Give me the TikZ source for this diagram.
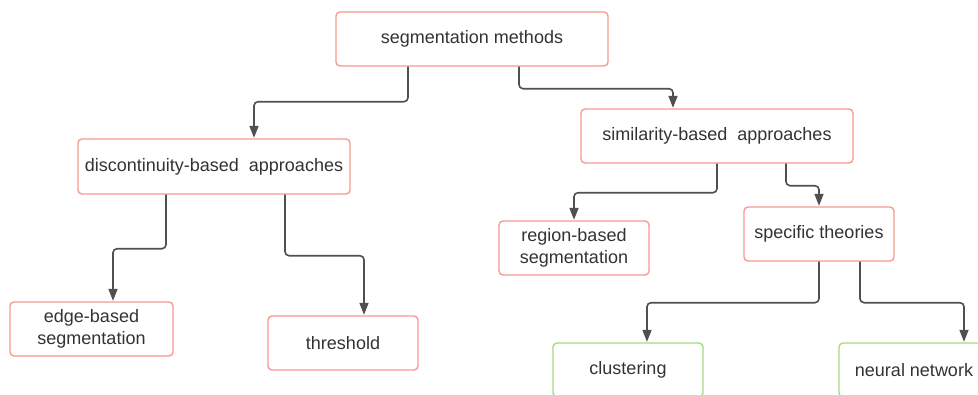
\documentclass[tikz,border=0pt]{standalone}
\usepackage{fontspec}
\setmainfont{Liberation Sans}
\usetikzlibrary{arrows.meta}
\definecolor{boxred}{HTML}{F79B8E}
\definecolor{boxgreen}{HTML}{A3D982}
\definecolor{txt}{HTML}{333333}
\definecolor{linec}{HTML}{505050}
\begin{document}
\begin{tikzpicture}[x=1pt,y=-1pt,
  box/.style={draw=boxred, line width=1.4pt, rounded corners=4pt, fill=white,
    text=txt, align=center, font=\fontsize{18}{21.5}\selectfont,
    inner sep=0pt, minimum height=54pt},
  gbox/.style={box, draw=boxgreen},
  conn/.style={draw=linec, line width=1.6pt, rounded corners=4pt,
    -{Triangle[width=9pt,length=12pt]}, shorten >=0.5pt}
]
\fill[white] (0,0) rectangle (978,394);
\useasboundingbox (0,0) rectangle (978,394);
\clip (0,0) rectangle (978,394);

\node[box, minimum width=272pt] (top) at (472,39) {segmentation methods};
\node[box, minimum width=272pt, minimum height=55pt] (disc) at (214,166.5) {discontinuity-based\ \ approaches};
\node[box, minimum width=272pt] (sim) at (717,136) {similarity-based\ \ approaches};
\node[box, minimum width=163pt] (edge) at (91.5,329) {edge-based\\segmentation};
\node[box, minimum width=150pt] (thr) at (343,343) {threshold};
\node[box, minimum width=150pt] (reg) at (574,248) {region-based\\segmentation};
\node[box, minimum width=150pt] (spec) at (819,234) {specific theories};
\node[gbox, minimum width=150pt] (clu) at (628,370) {clustering};
\node[gbox, minimum width=150pt] (nn) at (914,370) {neural network};

\draw[conn] ([xshift=-64pt]top.south) -- ++(0,35) -| ([xshift=40pt]disc.north);
\draw[conn] ([xshift=47pt]top.south) -- ++(0,22) -| ([xshift=-44pt]sim.north);
\draw[conn] ([xshift=-48pt]disc.south) -- ++(0,54) -| ([xshift=21.5pt]edge.north);
\draw[conn] ([xshift=71pt]disc.south) -- ++(0,61) -| ([xshift=21pt]thr.north);
\draw[conn] (sim.south) -- ++(0,29) -| (reg.north);
\draw[conn] ([xshift=69pt]sim.south) -- ++(0,22) -| (spec.north);
\draw[conn] (spec.south) -- ++(0,41) -| ([xshift=19pt]clu.north);
\draw[conn] ([xshift=41pt]spec.south) -- ++(0,41) -| ([xshift=50pt]nn.north);
\end{tikzpicture}
\end{document}
